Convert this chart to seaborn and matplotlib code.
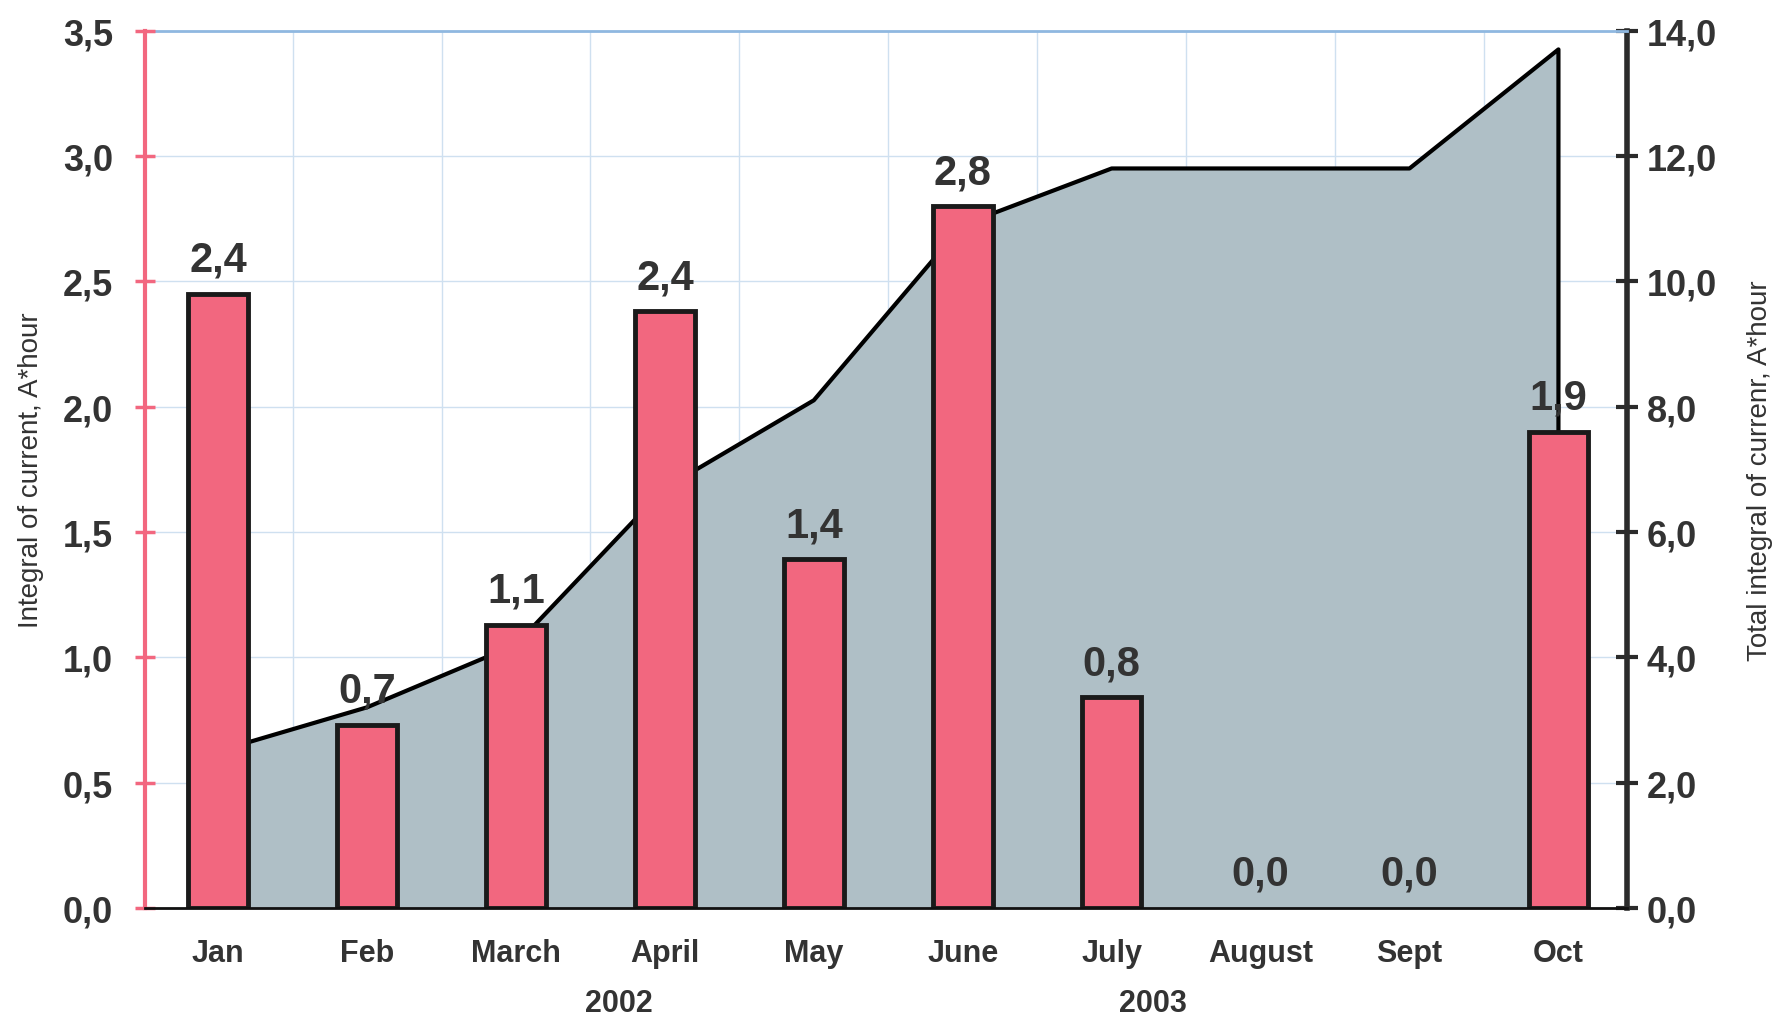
import numpy as np
import pandas as pd
import matplotlib
matplotlib.use("Agg")
import matplotlib.pyplot as plt
import seaborn as sns
from matplotlib.ticker import FuncFormatter, MultipleLocator

# data
months = ["Jan", "Feb", "March", "April", "May", "June", "July", "August", "Sept", "Oct"]
monthly = [2.45, 0.73, 1.13, 2.38, 1.39, 2.8, 0.84, 0.0, 0.0, 1.9]
monthly_labels = ["2,4", "0,7", "1,1", "2,4", "1,4", "2,8", "0,8", "0,0", "0,0", "1,9"]
total = [2.5, 3.2, 4.2, 6.7, 8.1, 10.9, 11.8, 11.8, 11.8, 13.7]
years = ["2002", "2003"]
year_pos = [2.69, 6.28]

df = pd.DataFrame({"month": months, "value": monthly})

sns.set_style("white")
plt.rcParams["font.family"] = ["Liberation Sans", "DejaVu Sans"]

pink = "#f2677f"
area_col = "#afbfc6"
dark = "#2b2b2b"
txt = "#333333"

fig, ax = plt.subplots(figsize=(17.81, 10.20), dpi=100)
fig.subplots_adjust(left=0.0815, right=0.9135, top=0.969, bottom=0.109)
ax2 = ax.twinx()

# cumulative area on the right axis
x = np.arange(len(months))
ax2.set_axisbelow(True)
ax2.fill_between(x, total, 0, color=area_col, zorder=1, linewidth=0)
line_x = list(x) + [x[-1]]
line_y = total + [0]
sns.lineplot(x=line_x, y=line_y, ax=ax2, color="black", linewidth=3,
             sort=False, estimator=None, zorder=2)
ax2.set_ylim(0, 14)
ax2.yaxis.set_major_locator(MultipleLocator(2))
ax2.yaxis.grid(True, color="#cfe0f0", linewidth=1)
ax2.vlines(x[:-1] + 0.5, 0, 14, color="#cfe0f0", linewidth=1, zorder=0.5)

# monthly bars on the left axis, drawn on top
ax.set_zorder(ax2.get_zorder() + 1)
ax.patch.set_visible(False)
sns.barplot(data=df, x="month", y="value", ax=ax, color=pink, width=0.4,
            edgecolor="#1a1a1a", linewidth=3.5, saturation=1)
for p in ax.patches:
    if p.get_height() == 0:
        p.set_visible(False)
for i, (v, lab) in enumerate(zip(monthly, monthly_labels)):
    ax.annotate(lab, (i, v), xytext=(0, 10), textcoords="offset points",
                ha="center", va="bottom", fontsize=30, fontweight="bold", color=txt)

ax.set_xlim(-0.49, 9.46)
ax.set_ylim(0, 3.5)
ax.yaxis.set_major_locator(MultipleLocator(0.5))

fmt = FuncFormatter(lambda v, p: f"{v:.1f}".replace(".", ","))
ax.yaxis.set_major_formatter(fmt)
ax2.yaxis.set_major_formatter(fmt)

# x ticks: labels at centres, small ticks at boundaries
ax.set_xticks(x)
ax.set_xticklabels(months)
ax.set_xticks(x[:-1] + 0.5, minor=True)
ax.tick_params(axis="x", which="major", length=0, pad=22, labelsize=22)
ax.tick_params(axis="x", which="minor", length=9, width=1, color="#777777", direction="out")
for t in ax.get_xticklabels():
    t.set_fontweight("bold")
    t.set_color(txt)
ax.set_xlabel("")

for yr, xp in zip(years, year_pos):
    ax.text(xp, -0.108, yr, transform=ax.get_xaxis_transform(), ha="center", va="center",
            fontsize=22, fontweight="bold", color=txt)

# left axis styling
ax.spines["left"].set_color(pink)
ax.spines["left"].set_linewidth(3)
ax.spines["bottom"].set_color("#111111")
ax.spines["bottom"].set_linewidth(2)
ax.spines["top"].set_visible(False)
ax.spines["right"].set_visible(False)
ax.tick_params(axis="y", direction="inout", length=14, width=2.5, color=pink,
               labelsize=26, pad=16, labelcolor=txt)
for t in ax.get_yticklabels():
    t.set_fontweight("bold")
ax.set_ylabel("Integral of current, A*hour", fontsize=20, color=txt, labelpad=14)

# right axis styling
ax2.spines["right"].set_color(dark)
ax2.spines["right"].set_linewidth(4)
ax2.spines["top"].set_color("#8fb8e0")
ax2.spines["top"].set_linewidth(2)
ax2.spines["left"].set_visible(False)
ax2.spines["bottom"].set_visible(False)
ax2.tick_params(axis="y", direction="inout", length=16, width=3, color=dark,
                labelsize=26, pad=6, labelcolor=txt)
for t in ax2.get_yticklabels():
    t.set_fontweight("bold")
ax2.set_ylabel("Total integral of currenr, A*hour", fontsize=20, color=txt, labelpad=22)

fig.savefig("out.png", dpi=100, facecolor="white")
